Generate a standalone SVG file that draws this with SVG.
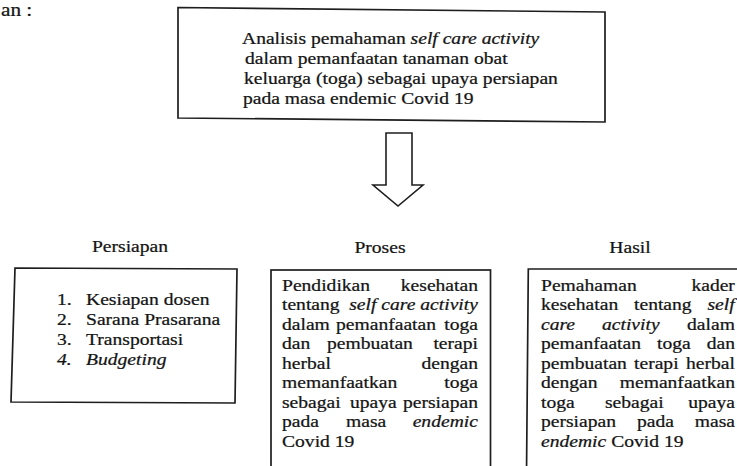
<svg xmlns="http://www.w3.org/2000/svg" width="737" height="466" viewBox="0 0 737 466">
<style>
text { font-family: "Liberation Serif", "Times New Roman", serif; font-size: 17.5px; fill: #141414; stroke: #141414; stroke-width: 0.25px; }
.s { transform-box: fill-box; transform-origin: 0% 50%; transform: scaleX(1.12); }
.e { text-anchor: end; transform-box: fill-box; transform-origin: 100% 50%; transform: scaleX(1.12); }
.c { text-anchor: middle; transform-box: fill-box; transform-origin: 50% 50%; transform: scaleX(1.12); }
.i { font-style: italic; }
.box { fill: #ffffff; stroke: #1e1e1e; stroke-width: 1.7; }
.arrow { fill: #ffffff; stroke: #1e1e1e; stroke-width: 1.6; stroke-linejoin: miter; }
</style>
<rect x="0" y="0" width="737" height="466" fill="#ffffff"/>

<text class="s" x="1" y="16" style="font-size:19px">an :</text>

<g id="analisis">
  <path class="box" d="M178,7.5 L605,12 L605,122 L178,118 Z"/>
  <text class="s" x="242" y="44">Analisis pemahaman <tspan class="i">self care activity</tspan></text>
  <text class="s" x="245" y="64">dalam  pemanfaatan tanaman obat</text>
  <text class="s" x="244" y="84">keluarga (toga) sebagai upaya persiapan</text>
  <text class="s" x="243" y="104">pada masa endemic Covid 19</text>
</g>

<g id="connectors">
  <polygon class="arrow" points="386,133 412,133 412,185 423,185 398,206 373,185 386,185"/>
</g>

<g id="persiapan">
  <text class="c" x="130" y="252">Persiapan</text>
  <path class="box" d="M15,268 L237,269 L235,403 L11,402 Z"/>
  <text class="s" x="57" y="305">1.</text>
  <text class="s" x="86" y="305">Kesiapan dosen</text>
  <text class="s" x="57" y="325">2.</text>
  <text class="s" x="86" y="325">Sarana Prasarana</text>
  <text class="s" x="57" y="345">3.</text>
  <text class="s" x="86" y="345">Transportasi</text>
  <text class="s i" x="57" y="365">4.</text>
  <text class="s i" x="86" y="365">Budgeting</text>
</g>

<g id="proses">
  <text class="c" x="380" y="253">Proses</text>
  <rect class="box" x="271" y="270" width="219.5" height="205"/>
  <text class="s" x="282" y="291">Pendidikan</text>
  <text class="e" x="478" y="291">kesehatan</text>
  <text class="s" x="282" y="310.5">tentang</text>
  <text class="e i" x="478" y="310.5">self care activity</text>
  <text class="s" x="282" y="330">dalam</text>
  <text class="s" x="336" y="330">pemanfaatan</text>
  <text class="e" x="478" y="330">toga</text>
  <text class="s" x="282" y="349.5">dan</text>
  <text class="s" x="327" y="349.5">pembuatan</text>
  <text class="e" x="478" y="349.5">terapi</text>
  <text class="s" x="282" y="369">herbal</text>
  <text class="e" x="478" y="369">dengan</text>
  <text class="s" x="282" y="388.5">memanfaatkan</text>
  <text class="e" x="478" y="388.5">toga</text>
  <text class="s" x="282" y="408">sebagai</text>
  <text class="s" x="350" y="408">upaya</text>
  <text class="e" x="478" y="408">persiapan</text>
  <text class="s" x="282" y="427.5">pada</text>
  <text class="s" x="346" y="427.5">masa</text>
  <text class="e i" x="478" y="427.5">endemic</text>
  <text class="s" x="282" y="447">Covid 19</text>
</g>

<g id="hasil">
  <text class="c" x="630" y="253">Hasil</text>
  <path class="box" d="M528.3,269 L745,269 L745,475 L526.5,475 Z"/>
  <text class="s" x="541" y="291">Pemahaman</text>
  <text class="e" x="735" y="291">kader</text>
  <text class="s" x="541" y="310.5">kesehatan</text>
  <text class="s" x="634" y="310.5">tentang</text>
  <text class="e i" x="735" y="310.5">self</text>
  <text class="s i" x="541" y="330">care</text>
  <text class="s i" x="602" y="330">activity</text>
  <text class="e" x="735" y="330">dalam</text>
  <text class="s" x="541" y="349.5">pemanfaatan</text>
  <text class="s" x="657" y="349.5">toga</text>
  <text class="e" x="735" y="349.5">dan</text>
  <text class="s" x="541" y="369">pembuatan</text>
  <text class="s" x="634" y="369">terapi</text>
  <text class="e" x="735" y="369">herbal</text>
  <text class="s" x="541" y="388.5">dengan</text>
  <text class="e" x="735" y="388.5">memanfaatkan</text>
  <text class="s" x="541" y="408">toga</text>
  <text class="s" x="605" y="408">sebagai</text>
  <text class="e" x="735" y="408">upaya</text>
  <text class="s" x="541" y="427.5">persiapan</text>
  <text class="s" x="637" y="427.5">pada</text>
  <text class="e" x="735" y="427.5">masa</text>
  <text class="s" x="541" y="447"><tspan class="i">endemic</tspan> Covid 19</text>
</g>
</svg>
